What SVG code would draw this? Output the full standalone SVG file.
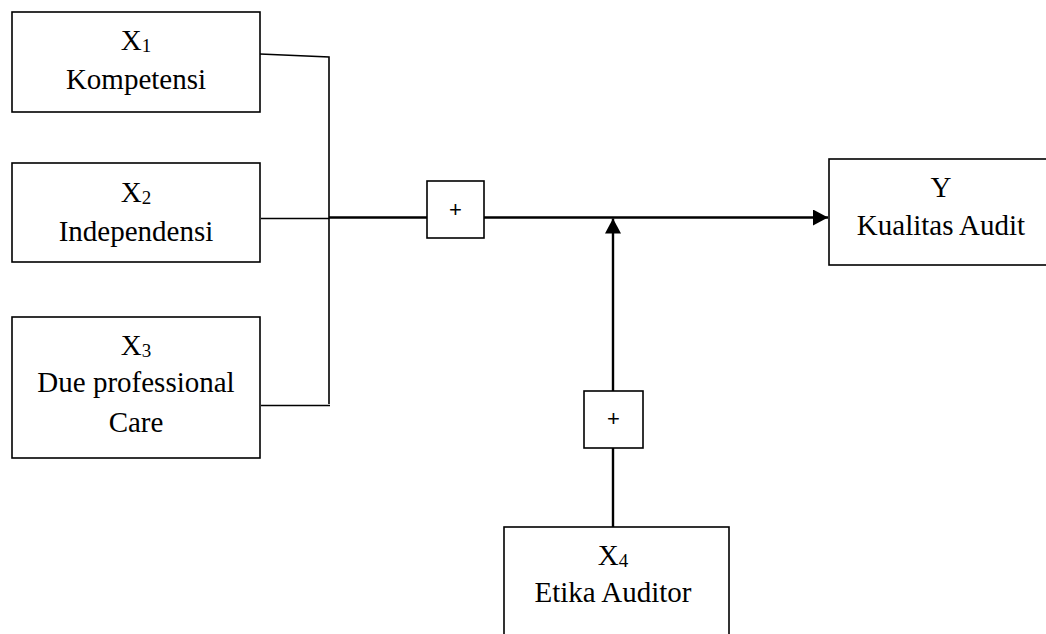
<svg xmlns="http://www.w3.org/2000/svg" width="1046" height="634" viewBox="0 0 1046 634">
<style>
.box{fill:#fff;stroke:#000;stroke-width:1.6}
.t{font-family:"Liberation Serif","Times New Roman",serif;font-size:29px;fill:#000;text-anchor:middle}
.sub{font-size:19px}
.plus{font-family:"Liberation Sans",Arial,sans-serif;font-size:22px;fill:#000;text-anchor:middle}
.thin{stroke:#000;stroke-width:1.6;fill:none}
.thick{stroke:#000;stroke-width:2.4;fill:none}
</style>
<defs>
<marker id="arr" viewBox="0 0 15 16" refX="15" refY="8" markerWidth="15" markerHeight="16" markerUnits="userSpaceOnUse" orient="auto">
<path d="M0,0 L15,8 L0,16 Z" fill="#000"/>
</marker>
</defs>
<g id="connectors">
<path class="thin" d="M260,54 L329,57 L329,404"/>
<path class="thin" d="M261,218.5 L329,218.5"/>
<path class="thin" d="M261,405.5 L330,405.5"/>
<path class="thick" d="M329,217.5 L427,217.5"/>
<path class="thick" d="M484,217.5 L828,217.5" marker-end="url(#arr)"/>
<path class="thick" d="M613,391 L613,218.5" marker-end="url(#arr)"/>
<path class="thick" d="M613,448 L613,527"/>
</g>
<g id="x1">
<rect class="box" x="12" y="12" width="248" height="100"/>
<text class="t" x="136" y="50">X<tspan class="sub" dy="2">1</tspan></text>
<text class="t" x="136" y="89">Kompetensi</text>
</g>
<g id="x2">
<rect class="box" x="12" y="163" width="248" height="99"/>
<text class="t" x="136" y="202">X<tspan class="sub" dy="2">2</tspan></text>
<text class="t" x="136" y="241">Independensi</text>
</g>
<g id="x3">
<rect class="box" x="12" y="317" width="248" height="141"/>
<text class="t" x="136" y="355">X<tspan class="sub" dy="2">3</tspan></text>
<text class="t" x="136" y="392">Due professional</text>
<text class="t" x="136" y="432">Care</text>
</g>
<g id="plus1">
<rect class="box" x="427" y="181" width="57" height="57"/>
<text class="plus" x="455.5" y="217">+</text>
</g>
<g id="plus2">
<rect class="box" x="584" y="391" width="59" height="57"/>
<text class="plus" x="613.5" y="426">+</text>
</g>
<g id="y">
<rect class="box" x="829" y="159" width="230" height="106"/>
<text class="t" x="941" y="197">Y</text>
<text class="t" x="941" y="235">Kualitas Audit</text>
</g>
<g id="x4">
<rect class="box" x="504" y="527" width="225" height="130"/>
<text class="t" x="613" y="565">X<tspan class="sub" dy="2">4</tspan></text>
<text class="t" x="613" y="602">Etika Auditor</text>
</g>
</svg>
